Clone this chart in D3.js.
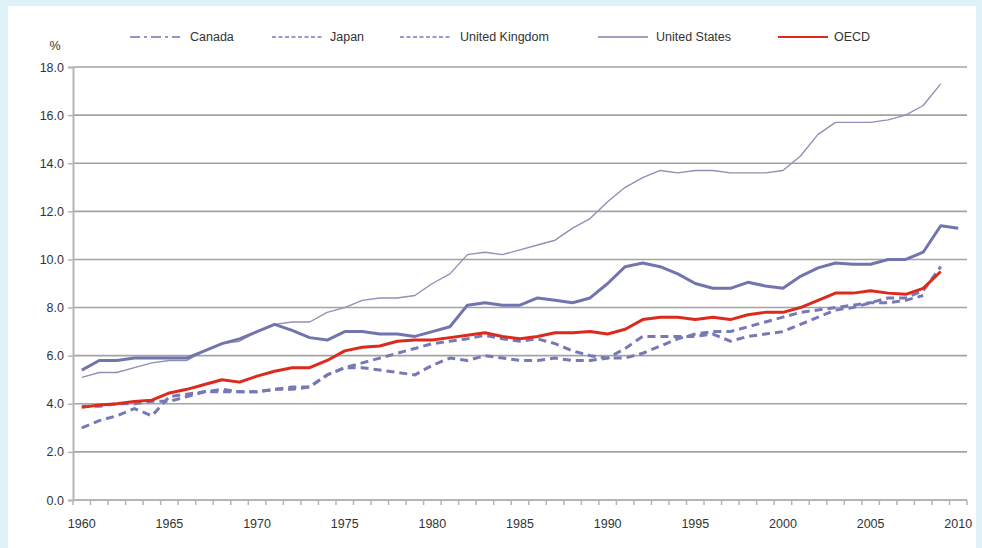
<!DOCTYPE html>
<html>
<head>
<meta charset="utf-8">
<script src="https://cdn.jsdelivr.net/npm/d3@7"></script>
<style>
  html, body { margin: 0; padding: 0; background: #dff2f8; }
  svg { display: block; font-family: "Liberation Sans", Arial, sans-serif; }
</style>
</head>
<body>
<svg id="chart" width="982" height="548"></svg>
<script>
const years = d3.range(1960, 2011);
const yTicks = [0, 2, 4, 6, 8, 10, 12, 14, 16, 18];
const xLabelYears = [1960, 1965, 1970, 1975, 1980, 1985, 1990, 1995, 2000, 2005, 2010];

const canada = [5.4, 5.8, 5.8, 5.9, 5.9, 5.9, 5.9, 6.2, 6.5, 6.7,
  7.0, 7.3, 7.05, 6.75, 6.65, 7.0, 7.0, 6.9, 6.9, 6.8,
  7.0, 7.2, 8.1, 8.2, 8.1, 8.1, 8.4, 8.3, 8.2, 8.4,
  9.0, 9.7, 9.85, 9.7, 9.4, 9.0, 8.8, 8.8, 9.05, 8.9,
  8.8, 9.3, 9.65, 9.85, 9.8, 9.8, 10.0, 10.0, 10.3, 11.4, 11.3];
const japan = [3.0, 3.3, 3.5, 3.8, 3.5, 4.3, 4.4, 4.5, 4.6, 4.5,
  4.5, 4.6, 4.7, 4.7, 5.2, 5.5, 5.7, 5.9, 6.1, 6.3,
  6.5, 6.6, 6.7, 6.85, 6.7, 6.6, 6.7, 6.5, 6.2, 6.0,
  5.9, 5.9, 6.1, 6.4, 6.7, 6.9, 7.0, 7.0, 7.2, 7.4,
  7.6, 7.8, 7.9, 8.0, 8.1, 8.2, 8.2, 8.3, 8.5];
const uk = [3.9, 3.9, 4.0, 4.0, 4.1, 4.1, 4.3, 4.5, 4.5, 4.5,
  4.5, 4.6, 4.6, 4.7, 5.2, 5.5, 5.5, 5.4, 5.3, 5.2,
  5.6, 5.9, 5.8, 6.0, 5.9, 5.8, 5.8, 5.9, 5.8, 5.8,
  5.9, 6.3, 6.8, 6.8, 6.8, 6.8, 6.9, 6.6, 6.8, 6.9,
  7.0, 7.3, 7.6, 7.9, 8.0, 8.2, 8.4, 8.4, 8.7, 9.7];
const us = [5.1, 5.3, 5.3, 5.5, 5.7, 5.8, 5.8, 6.2, 6.5, 6.6,
  7.0, 7.3, 7.4, 7.4, 7.8, 8.0, 8.3, 8.4, 8.4, 8.5,
  9.0, 9.4, 10.2, 10.3, 10.2, 10.4, 10.6, 10.8, 11.3, 11.7,
  12.4, 13.0, 13.4, 13.7, 13.6, 13.7, 13.7, 13.6, 13.6, 13.6,
  13.7, 14.3, 15.2, 15.7, 15.7, 15.7, 15.8, 16.0, 16.4, 17.3];
const oecd = [3.85, 3.95, 4.0, 4.1, 4.15, 4.45, 4.6, 4.8, 5.0, 4.9,
  5.15, 5.35, 5.5, 5.5, 5.8, 6.2, 6.35, 6.4, 6.6, 6.65,
  6.65, 6.75, 6.85, 6.95, 6.8, 6.7, 6.8, 6.95, 6.95, 7.0,
  6.9, 7.1, 7.5, 7.6, 7.6, 7.5, 7.6, 7.5, 7.7, 7.8,
  7.8, 8.0, 8.3, 8.6, 8.6, 8.7, 8.6, 8.55, 8.8, 9.5];

const seriesNames = ["Canada", "Japan", "United Kingdom", "United States", "OECD"];

const svg = d3.select("#chart");

// white panel
svg.append("rect").attr("x", 8).attr("y", 6).attr("width", 968).attr("height", 548)
  .attr("fill", "#ffffff");

const plotL = 73, plotR = 967, plotT = 67, plotB = 500;
const x = d3.scaleBand().domain(years).range([plotL, plotR]).padding(0);
const y = d3.scaleLinear().domain([0, 18]).range([plotB, plotT]);
const cx = yr => x(yr) + x.bandwidth() / 2;

// gridlines
svg.append("g").selectAll("line").data(yTicks.filter(d => d > 0)).join("line")
  .attr("x1", plotL).attr("x2", plotR)
  .attr("y1", d => y(d)).attr("y2", d => y(d))
  .attr("stroke", "#a3a3a3").attr("stroke-width", 1.6);

// y axis
const yAxis = d3.axisLeft(y).tickValues(yTicks).tickFormat(d3.format(".1f")).tickSize(5).tickPadding(4);
const gy = svg.append("g").attr("transform", `translate(${plotL},0)`).call(yAxis);
gy.select(".domain").attr("stroke", "#b5b5b5").attr("stroke-width", 2);
gy.selectAll(".tick line").attr("stroke", "#b5b5b5").attr("stroke-width", 1.5);
gy.selectAll(".tick text").attr("fill", "#333").attr("font-size", 12.5)
  .attr("font-family", "'Liberation Sans', Arial, sans-serif");

// x axis: line at bottom, ticks at band boundaries, labels every 5 years
svg.append("line").attr("x1", plotL).attr("x2", plotR).attr("y1", plotB).attr("y2", plotB)
  .attr("stroke", "#b5b5b5").attr("stroke-width", 2);
const boundaries = years.map(d => x(d)).concat([x(2010) + x.bandwidth()]);
svg.append("g").selectAll("line").data(boundaries).join("line")
  .attr("x1", d => d).attr("x2", d => d).attr("y1", plotB).attr("y2", plotB + 5)
  .attr("stroke", "#b5b5b5").attr("stroke-width", 1.5);
const xAxis = d3.axisBottom(x).tickValues(xLabelYears).tickSize(0).tickPadding(19);
const gx = svg.append("g").attr("transform", `translate(0,${plotB})`).call(xAxis);
gx.select(".domain").remove();
gx.selectAll(".tick text").attr("fill", "#333").attr("font-size", 12.5)
  .attr("font-family", "'Liberation Sans', Arial, sans-serif");

svg.append("text").attr("x", 55).attr("y", 50).attr("text-anchor", "middle")
  .attr("font-size", 12.5).attr("fill", "#333").text("%");

const line = d3.line().x(d => cx(d[0])).y(d => y(d[1]));
const pairs = arr => arr.map((v, i) => [years[i], v]);

const styles = {
  "United States": { data: us, color: "#9090b4", width: 1.4, dash: null },
  "Canada": { data: canada, color: "#7274ad", width: 3, dash: null },
  "Japan": { data: japan, color: "#7779b6", width: 3, dash: "8,5" },
  "United Kingdom": { data: uk, color: "#7779b6", width: 3, dash: "8,5" },
  "OECD": { data: oecd, color: "#dc2a1c", width: 3, dash: null }
};
["United States", "Canada", "Japan", "United Kingdom", "OECD"].forEach(name => {
  const s = styles[name];
  svg.append("path").datum(pairs(s.data)).attr("d", line)
    .attr("fill", "none").attr("stroke", s.color).attr("stroke-width", s.width)
    .attr("stroke-linejoin", "round")
    .attr("stroke-dasharray", s.dash);
});

// legend
const legendItems = [
  { name: "Canada", x1: 130, x2: 180, tx: 190, color: "#7274ad", width: 1.5, dash: "10,4,3,4" },
  { name: "Japan", x1: 272, x2: 322, tx: 330, color: "#7779b6", width: 1.5, dash: "4,2.5" },
  { name: "United Kingdom", x1: 400, x2: 450, tx: 460, color: "#7779b6", width: 1.5, dash: "4,2.5" },
  { name: "United States", x1: 598, x2: 648, tx: 656, color: "#8080aa", width: 1.5, dash: null },
  { name: "OECD", x1: 778, x2: 828, tx: 834, color: "#dc2a1c", width: 2, dash: null }
];
const lg = svg.append("g");
legendItems.forEach(it => {
  lg.append("line").attr("x1", it.x1).attr("x2", it.x2).attr("y1", 37).attr("y2", 37)
    .attr("stroke", it.color).attr("stroke-width", it.width).attr("stroke-dasharray", it.dash);
  lg.append("text").attr("x", it.tx).attr("y", 41).attr("font-size", 12.5).attr("fill", "#333")
    .text(it.name);
});
</script>
</body>
</html>
